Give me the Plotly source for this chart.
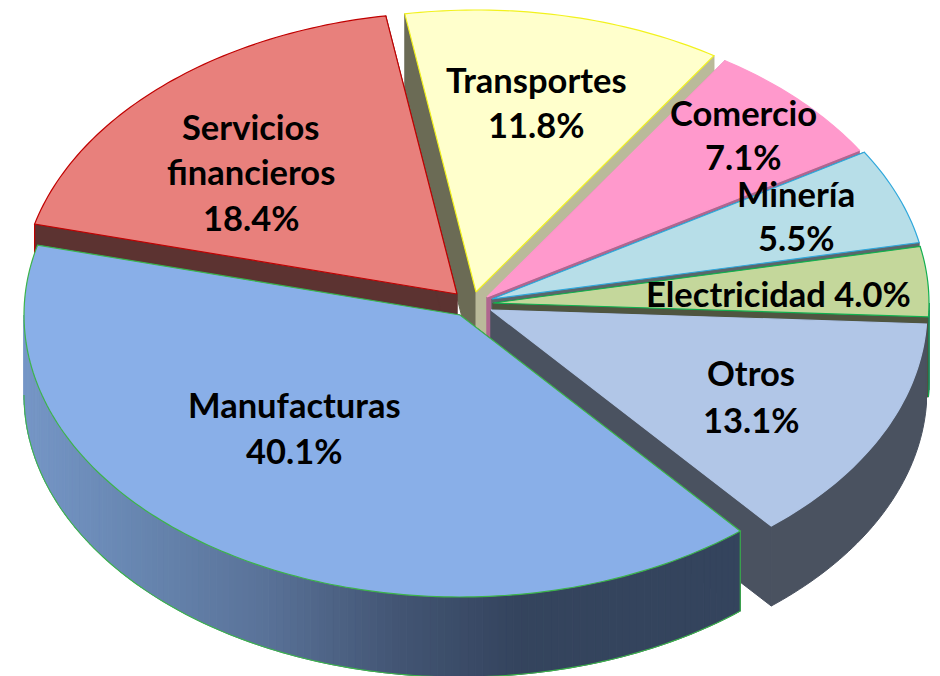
import math
import plotly.graph_objects as go

# ---- data ----
categories = ["Transportes", "Comercio", "Minería", "Electricidad", "Otros", "Manufacturas", "Servicios financieros"]
shares = [11.8, 7.1, 5.5, 4.0, 13.1, 40.1, 18.4]

# ---- projection of the tilted pie ----
START_DEG = -9.4
RX, RY, DEPTH = 436, 282, 80
apex = {
    "Transportes": (476, 292), "Comercio": (487, 297), "Minería": (492, 299),
    "Electricidad": (493, 303), "Otros": (491, 310), "Manufacturas": (460, 315),
    "Servicios financieros": (457, 294),
}
# top colour, outline colour, clockwise-leading face, trailing face
style = {
    "Transportes": ("#FFFFCC", "#F2F21E", "#BABA9A", "#6B6B55"),
    "Comercio": ("#FF99CC", "#FF99CC", "#B0668F", "#B0668F"),
    "Minería": ("#B7DEE8", "#2FA8DC", "#5A666C", "#5A666C"),
    "Electricidad": ("#C4D79B", "#12B050", "#4F5540", "#4F5540"),
    "Otros": ("#B1C6E7", "#B1C6E7", "#4A5260", "#4A5260"),
    "Manufacturas": ("#89AFE8", "#3CB44A", "#34445C", "#34445C"),
    "Servicios financieros": ("#E8807C", "#C00000", "#5C3331", "#5C3331"),
}
wall_solid = {"Otros": "#4A5260"}
wall_stops = [(24, (117, 150, 198)), (130, (104, 135, 178)), (260, (90, 115, 153)),
              (400, (66, 84, 115)), (520, (52, 68, 93)), (740, (52, 68, 93))]
draw_order = ["Transportes", "Comercio", "Minería", "Electricidad", "Servicios financieros", "Otros", "Manufacturas"]

# label lines: category/value text -> centre in pixels
label_lines = {
    "Transportes": [("Transportes", 536, 79), ("{v}", 536, 124)],
    "Comercio": [("Comercio", 743, 112), ("{v}", 743, 156)],
    "Minería": [("Minería", 796, 193), ("{v}", 796, 237)],
    "Electricidad": [("Electricidad {v}", 778, 293)],
    "Otros": [("Otros", 751, 372), ("{v}", 751, 419)],
    "Manufacturas": [("Manufacturas", 294, 404), ("{v}", 294, 450)],
    "Servicios financieros": [("Servicios", 251, 126), ("financieros", 251, 171), ("{v}", 251, 217)],
}

spans = {}
a = START_DEG
for name, s in zip(categories, shares):
    spans[name] = (a, a + s * 3.6)
    a += s * 3.6


def rim(name, t):
    cx, cy = apex[name]
    r = math.radians(t)
    return cx + RX * math.sin(r), cy - RY * math.cos(r)


def steps(t0, t1, n_per_deg=1.0):
    n = max(2, int(abs(t1 - t0) * n_per_deg))
    return [t0 + (t1 - t0) * i / n for i in range(n + 1)]


def shade(x):
    if x <= wall_stops[0][0]:
        c = wall_stops[0][1]
    elif x >= wall_stops[-1][0]:
        c = wall_stops[-1][1]
    else:
        for (x0, c0), (x1, c1) in zip(wall_stops, wall_stops[1:]):
            if x0 <= x <= x1:
                f = (x - x0) / (x1 - x0)
                c = tuple(c0[i] + (c1[i] - c0[i]) * f for i in range(3))
                break
    return "rgb(%d,%d,%d)" % tuple(round(v) for v in c)


fig = go.Figure()


def poly(xs, ys, fill, line=None, width=1.2):
    fig.add_trace(go.Scatter(
        x=list(xs) + [xs[0]], y=list(ys) + [ys[0]], mode="lines",
        fill="toself" if fill else "none", fillcolor=fill,
        line=dict(color=line or fill or "rgba(0,0,0,0)", width=width if line else 1.0, simplify=False),
        hoverinfo="skip", showlegend=False))


for name in draw_order:
    top, edge, lead, trail = style[name]
    t0, t1 = spans[name]
    ax, ay = apex[name]
    # radial faces
    x0, y0 = rim(name, t0)
    x1, y1 = rim(name, t1)
    poly([ax, x0, x0, ax], [ay, y0, y0 + DEPTH, ay + DEPTH], trail)
    poly([ax, x1, x1, ax], [ay, y1, y1 + DEPTH, ay + DEPTH], lead)
    # outer wall on the front half of the ellipse
    a0, a1 = max(t0, 90), min(t1, 270)
    if a1 > a0:
        ts = steps(a0, a1)
        if name in wall_solid:
            pts = [rim(name, t) for t in ts]
            poly([p[0] for p in pts] + [p[0] for p in reversed(pts)],
                 [p[1] for p in pts] + [p[1] + DEPTH for p in reversed(pts)], wall_solid[name])
        else:
            for u, v in zip(ts, ts[1:]):
                ux, uy = rim(name, u)
                vx, vy = rim(name, v)
                poly([ux, vx, vx, ux], [uy, vy, vy + DEPTH, uy + DEPTH], shade((ux + vx) / 2))
            pts = [rim(name, t) for t in steps(a0, a1)]
            fig.add_trace(go.Scatter(
                x=[pts[0][0]] + [p[0] for p in pts],
                y=[pts[0][1]] + [p[1] + DEPTH for p in pts],
                mode="lines", line=dict(color=edge, width=1.1, simplify=False), hoverinfo="skip", showlegend=False))
    if name == "Servicios financieros":
        fig.add_trace(go.Scatter(x=[x0, x0], y=[y0, y0 + DEPTH], mode="lines",
                                 line=dict(color=edge, width=1.2), hoverinfo="skip", showlegend=False))
    # top face
    pts = [rim(name, t) for t in steps(t0, t1)]
    poly([ax] + [p[0] for p in pts], [ay] + [p[1] for p in pts], top, edge)

share_of = dict(zip(categories, shares))
for name in categories:
    for text, px, py in label_lines[name]:
        fig.add_annotation(
            x=px, y=py, text="<b>%s</b>" % text.format(v="%.1f%%" % share_of[name]),
            showarrow=False, xanchor="center", yanchor="middle",
            font=dict(family="Lato", size=34.5, color="#000000"))

fig.update_layout(
    width=940, height=676, margin=dict(l=0, r=0, t=0, b=0),
    paper_bgcolor="white", plot_bgcolor="white", showlegend=False,
    xaxis=dict(range=[0, 940], visible=False, fixedrange=True),
    yaxis=dict(range=[676, 0], visible=False, fixedrange=True),
)
fig.write_html("out.html", config={"displayModeBar": False},
               post_script="document.body.style.margin='0';document.documentElement.style.overflow='hidden';")
